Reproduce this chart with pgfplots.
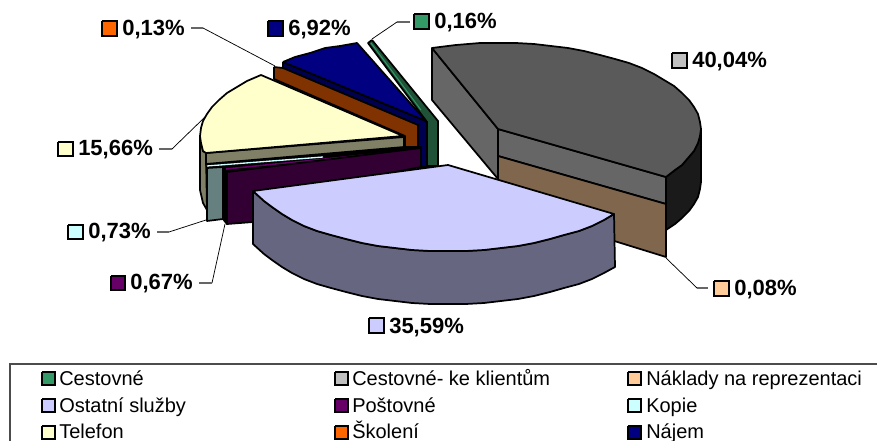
\documentclass[border=0pt]{standalone}
\usepackage{fontspec}
\setmainfont{Liberation Sans}
\usepackage{pgfplots}
\pgfplotsset{compat=1.18}
\definecolor{cgreenT}{HTML}{339966}
\definecolor{cgreenS}{HTML}{1F5237}
\definecolor{cgreyT}{HTML}{5A5A5A}
\definecolor{cgreyS}{HTML}{666666}
\definecolor{cgreyD}{HTML}{1A1A1A}
\definecolor{cgreyL}{HTML}{C0C0C0}
\definecolor{cbrown}{HTML}{80664D}
\definecolor{cpeach}{HTML}{FFCC99}
\definecolor{clavT}{HTML}{CCCCFF}
\definecolor{clavS}{HTML}{666680}
\definecolor{cpurT}{HTML}{660066}
\definecolor{cpurS}{HTML}{330033}
\definecolor{ccyanT}{HTML}{CCFFFF}
\definecolor{ccyanS}{HTML}{668080}
\definecolor{cyelT}{HTML}{FFFFCC}
\definecolor{cyelS}{HTML}{808066}
\definecolor{corT}{HTML}{FF6600}
\definecolor{corS}{HTML}{803300}
\definecolor{cnavT}{HTML}{000080}
\definecolor{cnavS}{HTML}{000050}
\pgfplotsset{
  face/.style={draw=black, line width=1.3pt, line join=round, fill=#1, mark=none},
  leader/.style={draw=black, line width=0.55pt, mark=none},
  stub/.style={draw=black!60, line width=0.9pt, mark=none},
  swatch/.style={draw=black, line width=1.2pt, fill=#1, mark=none},
}
\newcommand{\pct}[2]{\node[anchor=base west, inner sep=0pt, font=\fontsize{16.5}{18}\selectfont\bfseries] at (axis cs:#1) {#2};}
\newcommand{\leg}[2]{\node[anchor=base west, inner sep=0pt, font=\fontsize{15}{17}\selectfont] at (axis cs:#1) {#2};}
\begin{document}
\begin{tikzpicture}
\begin{axis}[
  scale only axis, width=657.75pt, height=330.75pt,
  xmin=0, xmax=877, ymin=0, ymax=441, y dir=reverse,
  hide axis, clip=true,
]
% canvas
\addplot[draw=none, fill=white, mark=none] coordinates {(0,0) (877,0) (877,441) (0,441) (0,0)};

% Cestovne
\addplot[face=cgreenS] coordinates {(372,40) (368,43) (427,122) (427,166) (438,166) (438,121) (372,40)};
\addplot[draw=cgreenT, line width=0.7pt, mark=none] coordinates {(371,43) (421,110)};

% Najem
\addplot[face=cnavS] coordinates {(283,62) (283,68) (418,125) (418,147) (421,147) (421,167) (427,167) (427,123) (426,121) (283,62)};
\addplot[face=cnavT] coordinates {(283,62) (295,57) (310,53) (325,48) (340,46) (357,43) (426,121) (283,62)};

% Skoleni
\addplot[face=corS] coordinates {(274,67) (274,79) (405,136) (405,148) (418,147) (418,125) (283,68) (274,67)};

% Telefon
\addplot[face=cyelS] coordinates {(200,136) (203,151) (206,153) (207,210) (203,203) (200,190) (200,136)};
\addplot[face=black] coordinates {(206,164) (404,147) (421,147) (421,152) (227,172) (207,168) (206,164)};
\addplot[face=cyelS] coordinates {(206,153) (404,137) (404,147) (206,164) (206,153)};
\addplot[face=cyelT] coordinates {(206,153) (203,151) (201,143) (200,136) (201,128) (203,121) (207,114) (212,107) (219,100) (227,93) (237,87) (247,81) (261,75) (403,136) (206,153)};

% Kopie
\addplot[draw=ccyanT, line width=1pt, mark=none] coordinates {(207,166) (323,157)};
\addplot[face=ccyanS] coordinates {(207,168) (223,167) (223,219) (207,221) (207,168)};

% Postovne
\addplot[face=black] coordinates {(223,168) (227,172) (227,224) (223,219) (223,168)};
\addplot[draw=cpurT, line width=1.2pt, mark=none] coordinates {(226,169) (405,151)};
\addplot[face=cpurS] coordinates {(227,172) (421,148) (421,167) (300,190) (253,222) (227,224) (227,172)};

% Cestovne - ke klientum
\addplot[face=cgreyS] coordinates {(432,48) (498,129) (498,179) (432,100) (432,48)};
\addplot[face=cgreyS] coordinates {(498,129) (666,177) (666,204) (498,156) (498,129)};
\addplot[face=cgreyD] coordinates {(666,177) (675,170) (682,165) (688,158) (694,151) (698,143) (700,136) (701,129) (701,182) (700,189) (698,197) (694,204) (689,211) (682,218) (675,224) (666,230) (666,177)};
\addplot[face=cgreyT] coordinates {(666,177) (675,170) (682,165) (688,158) (694,151) (698,143) (700,136) (701,129) (700,122) (698,114) (694,107) (689,100) (682,93) (674,86) (664,80) (654,74) (642,68) (629,63) (615,59) (600,55) (584,51) (568,48) (551,46) (534,44) (516,43) (498,43) (480,43) (456,45) (432,48) (498,129) (666,177)};

% Naklady na reprezentaci
\addplot[face=cbrown] coordinates {(498,156) (666,204) (666,257) (498,205) (498,156)};

% Ostatni sluzby
\addplot[face=clavS] coordinates {(614,214) (604,220) (592,226) (579,231) (564,235) (550,239) (534,243) (518,246) (501,248) (484,250) (466,251) (448,251) (430,251) (412,250) (395,248) (378,246) (362,243) (346,239) (331,235) (317,231) (304,226) (292,220) (282,214) (272,207) (264,201) (253,191) (253,244) (264,254) (272,260) (282,267) (292,273) (304,279) (317,284) (331,288) (346,292) (362,296) (378,299) (395,301) (412,303) (430,304) (448,304) (466,304) (484,303) (501,301) (518,299) (534,296) (550,292) (564,288) (579,284) (592,279) (604,273) (615,267) (614,214)};
\addplot[face=clavT] coordinates {(253,191) (448,165) (614,214) (604,220) (592,226) (579,231) (564,235) (550,239) (534,243) (518,246) (501,248) (484,250) (466,251) (448,251) (430,251) (412,250) (395,248) (378,246) (362,243) (346,239) (331,235) (317,231) (304,226) (292,220) (282,214) (272,207) (264,201) (253,191)};

% Leader lines
\addplot[leader] coordinates {(203,28) (275,66)};
\addplot[stub] coordinates {(191,28) (203,28)};
\addplot[leader] coordinates {(397,22) (372,39)};
\addplot[stub] coordinates {(397,22) (410,22)};
\addplot[leader] coordinates {(666,258) (697,288)};
\addplot[stub] coordinates {(697,288) (708,288)};
\addplot[leader] coordinates {(172,149) (205,117)};
\addplot[stub] coordinates {(159,149) (172,149)};
\addplot[leader] coordinates {(169,232) (206,220)};
\addplot[stub] coordinates {(157,232) (169,232)};
\addplot[leader] coordinates {(212,283) (225,224)};
\addplot[stub] coordinates {(199,283) (212,283)};

% Percentage label keys
\addplot[swatch=corT]   coordinates {(102,21) (117,21) (117,36) (102,36) (102,21)};
\addplot[swatch=cnavT]  coordinates {(268,21) (283,21) (283,36) (268,36) (268,21)};
\addplot[swatch=cgreenT]coordinates {(414,14) (429,14) (429,29) (414,29) (414,14)};
\addplot[swatch=cgreyL] coordinates {(672,53) (687,53) (687,68) (672,68) (672,53)};
\addplot[swatch=cpeach] coordinates {(714,281) (729,281) (729,296) (714,296) (714,281)};
\addplot[swatch=clavT]  coordinates {(369,318) (384,318) (384,333) (369,333) (369,318)};
\addplot[swatch=cyelT]  coordinates {(58,142) (73,142) (73,156) (58,156) (58,142)};
\addplot[swatch=ccyanT] coordinates {(68,225) (83,225) (83,239) (68,239) (68,225)};
\addplot[swatch=cpurT]  coordinates {(111,276) (125,276) (125,290) (111,290) (111,276)};

\pct{122,36}{0,13\%}
\pct{288,36}{6,92\%}
\pct{434,29}{0,16\%}
\pct{692,68}{40,04\%}
\pct{734,296}{0,08\%}
\pct{389,333}{35,59\%}
\pct{78,156}{15,66\%}
\pct{88,239}{0,73\%}
\pct{130,290}{0,67\%}

% Legend frame, open at the lower edge of the page
\addplot[draw=black!70, line width=0.8pt, mark=none] coordinates {(10,441) (10,364) (877,364)};

\addplot[swatch=cgreenT] coordinates {(42,372) (55,372) (55,385) (42,385) (42,372)};
\addplot[swatch=cgreyL]  coordinates {(335,372) (348,372) (348,385) (335,385) (335,372)};
\addplot[swatch=cpeach]  coordinates {(628,372) (641,372) (641,385) (628,385) (628,372)};
\addplot[swatch=clavT]   coordinates {(42,399) (55,399) (55,412) (42,412) (42,399)};
\addplot[swatch=cpurT]   coordinates {(335,399) (348,399) (348,412) (335,412) (335,399)};
\addplot[swatch=ccyanT]  coordinates {(628,399) (641,399) (641,412) (628,412) (628,399)};
\addplot[swatch=cyelT]   coordinates {(42,426) (55,426) (55,439) (42,439) (42,426)};
\addplot[swatch=corT]    coordinates {(335,426) (348,426) (348,439) (335,439) (335,426)};
\addplot[swatch=cnavT]   coordinates {(628,426) (641,426) (641,439) (628,439) (628,426)};

\leg{59,385.5}{Cestovné}
\leg{352,385.5}{Cestovné- ke klientům}
\leg{646,385.5}{Náklady na reprezentaci}
\leg{59,412}{Ostatní služby}
\leg{352,412}{Poštovné}
\leg{646,412}{Kopie}
\leg{59,438.5}{Telefon}
\leg{352,438.5}{Školení}
\leg{646,438.5}{Nájem}
\end{axis}
\end{tikzpicture}
\end{document}
